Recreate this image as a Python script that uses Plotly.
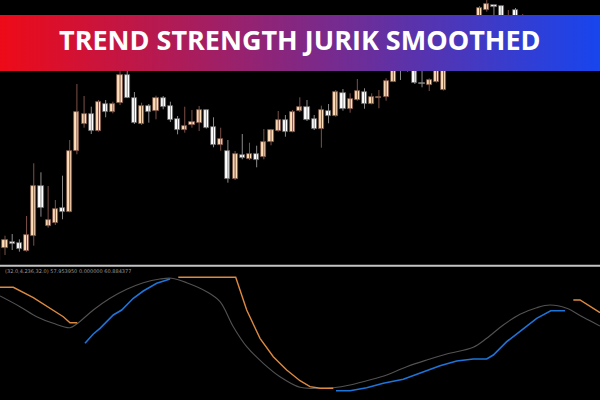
import base64
import plotly.graph_objects as go

# ---------------- main price panel (candles) ----------------
opens = [39, 52.3, 58.3, 56.7, 49.3, 64, 114.3, 74.3, 77.3, 91.7,
         88, 149, 176, 186, 168.7, 196, 188, 196.7, 225, 202.3,
         175.7, 194.3, 189, 201.7, 193.7, 180.7, 170, 174.7, 176.7, 190,
         173.3, 154.7, 149, 120.7, 145, 141, 146, 143.3, 157.7, 169,
         180, 168.3, 189, 193.3, 180.7, 171, 189.3, 184.3, 206.7, 190.7,
         200, 208.3, 196.3, 202.4, 202.7, 218.3, 242, 234, 245, 217,
         215, 218.3, 210, 232, 248, 255, 265, 278, 290, 295,
         294, 276, 290, 280]
highs = [57, 64.3, 66, 60.7, 84, 136.7, 127.7, 114, 100, 124.3,
         160, 216, 204, 193.3, 200, 200, 198.3, 232, 230, 208,
         197.3, 196, 204.3, 204, 198.3, 184, 193.3, 190, 194, 190,
         182.7, 172.3, 160, 149, 166, 157.3, 154.3, 171, 171, 189,
         185, 190, 202.7, 200, 185, 194.3, 196, 210, 211, 206.7,
         221, 211.7, 206.7, 210, 221.7, 242, 248, 255, 250, 232,
         221.7, 240, 242, 250, 260, 270, 280, 294, 300, 295,
         294, 290, 292, 286]
lows = [38, 45, 50, 48.3, 48.3, 54.3, 83.3, 72.3, 75, 80.7,
        87.7, 145.7, 172.3, 166, 168.3, 182.7, 186.7, 195, 202, 176,
        175, 177.3, 180.7, 190.7, 178, 165.7, 167.3, 172.3, 169, 171.5,
        152.7, 149.3, 117.3, 120, 140.7, 140, 132.7, 140.7, 154.7, 168.3,
        163.3, 167.7, 188, 179, 170, 152.3, 176.7, 183.3, 189.3, 187.3,
        199.3, 191.3, 195.7, 191.7, 199.3, 218, 220, 228, 216, 212.7,
        209, 217.5, 209.5, 229, 240, 250, 260, 275, 288.3, 282,
        278, 274, 275, 276]
closes = [54, 60, 56.3, 51, 65, 114.3, 92.3, 79.7, 90.7, 87.7,
          149, 188, 186, 169, 197.7, 188, 196, 225, 202.3, 176.7,
          194.3, 188.3, 202.3, 193.3, 180, 170, 174, 177.7, 190, 172.3,
          154.7, 161, 121, 146, 142.3, 146.3, 140.3, 158.3, 170, 179.7,
          168.3, 188.3, 193.3, 180, 171, 190, 184.3, 207.7, 190.7, 201,
          209, 196.3, 203.3, 203.0, 219.3, 238, 232, 250, 216.7, 216.4,
          220, 236, 238, 248, 255, 265, 275, 291.7, 296, 293.3,
          280, 282, 278, 283]
bars = list(range(len(opens)))

# ---------------- lower indicator panel ----------------
gray_x = [0, 20, 36.7, 53.3, 70, 76.7, 93.3, 110, 126.7, 143.3, 160, 171.7, 186.7,
          206.7, 220, 233.3, 246.7, 263.3, 280, 300, 316.7, 333.3, 350, 366.7,
          386.7, 406.7, 426.7, 446.7, 473.3, 486.7, 503.3, 520, 536.7, 550,
          566.7, 583.3, 600]
gray_v = [99, 88.3, 78.3, 71.7, 67.3, 71, 85, 96.7, 105.7, 112.3, 116, 116.7, 112.3,
          103.3, 93.3, 68.3, 48.3, 31.7, 18.3, 7.7, 6.7, 7.3, 10, 14.3,
          20, 28.3, 35, 41, 47.7, 56.7, 70, 80.7, 87.3, 90,
          86.7, 77.7, 69]

orange1_x = [0, 13.3, 33.3, 50, 63.3, 70, 77.3]
orange1_v = [107.7, 107.7, 97.3, 87, 78.3, 72.3, 72.3]
orange2_x = [178.3, 235.7, 246.7, 260, 273.3, 286.7, 300, 310, 320, 333.3]
orange2_v = [117.7, 117.7, 85, 56.7, 38.3, 25, 14.3, 8.3, 6.7, 6.7]
orange3_x = [573.3, 580, 600]
orange3_v = [95, 95, 82.3]

blue1_x = [85, 93.3, 100, 113.3, 121.7, 133.3, 143.3, 156.7, 170]
blue1_v = [51.7, 61, 66.7, 80, 85, 96.7, 104, 111.7, 116]
blue2_x = [336, 350, 366.7, 383.3, 403.3, 423.3, 440, 456.7, 473.3, 486.7,
           493.3, 506.7, 523.3, 536.7, 550.7, 565]
blue2_v = [4.3, 4.3, 7.3, 11.7, 15.7, 23.3, 29.3, 34, 36, 36,
           40, 53.3, 66.7, 76.7, 84.3, 84.3]

title_text = "TREND STRENGTH JURIK SMOOTHED"
info_text = "(32.0,4.236,32.0) 57.953950 0.000000 60.884377"

# ---------------- build figure ----------------
fig = go.Figure()

bull = [i for i in bars if closes[i] >= opens[i]]
bear = [i for i in bars if closes[i] < opens[i]]


def wick_xy(group):
    xs, ys = [], []
    for i in group:
        xs += [i, i, None]
        ys += [lows[i], highs[i], None]
    return xs, ys


for group, col in ((bull, "#7d5148"), (bear, "#8a8a8a")):
    wx, wy = wick_xy(group)
    fig.add_trace(go.Scatter(x=wx, y=wy, mode="lines", line=dict(color=col, width=1),
                             hoverinfo="skip", showlegend=False, xaxis="x", yaxis="y"))

for group, fill, edge in ((bull, "#FFDEB8", "#7a5444"), (bear, "#FFFFFF", "#606060")):
    base = [min(opens[i], closes[i]) for i in group]
    height = [max(abs(closes[i] - opens[i]), 0.8) for i in group]
    fig.add_trace(go.Bar(x=group, y=height, base=base, width=0.72,
                         marker=dict(color=fill, line=dict(color=edge, width=0.8)),
                         showlegend=False, xaxis="x", yaxis="y"))

fig.add_trace(go.Scatter(x=gray_x, y=gray_v, mode="lines",
                         line=dict(color="#525252", width=1.1, shape="spline"),
                         showlegend=False, xaxis="x2", yaxis="y2"))
for xs, vs in ((orange1_x, orange1_v), (orange2_x, orange2_v), (orange3_x, orange3_v)):
    fig.add_trace(go.Scatter(x=xs, y=vs, mode="lines", line=dict(color="#DC8A40", width=1.4),
                             showlegend=False, xaxis="x2", yaxis="y2"))
for xs, vs in ((blue1_x, blue1_v), (blue2_x, blue2_v)):
    fig.add_trace(go.Scatter(x=xs, y=vs, mode="lines", line=dict(color="#1E74D8", width=1.6),
                             showlegend=False, xaxis="x2", yaxis="y2"))

# gradient banner as an SVG image
svg = ("<svg xmlns='http://www.w3.org/2000/svg' width='600' height='56' preserveAspectRatio='none'>"
       "<defs><linearGradient id='g' x1='0' x2='1' y1='0' y2='0'>"
       "<stop offset='0' stop-color='#EE0A18'/><stop offset='1' stop-color='#1745EE'/>"
       "</linearGradient></defs><rect width='600' height='56' fill='url(#g)'/></svg>")
uri = "data:image/svg+xml;base64," + base64.b64encode(svg.encode()).decode()

H = 400.0
fig.update_layout(
    width=600, height=400,
    margin=dict(l=0, r=0, t=0, b=0),
    paper_bgcolor="black", plot_bgcolor="rgba(0,0,0,0)",
    barmode="overlay", bargap=0,
    xaxis=dict(domain=[0, 1], range=[0.305, 83.75], visible=False, anchor="y"),
    yaxis=dict(domain=[1 - 265 / H, 1], range=[35, 300], visible=False, anchor="x"),
    xaxis2=dict(domain=[0, 1], range=[0, 600], visible=False, anchor="y2"),
    yaxis2=dict(domain=[0, 1 - 267 / H], range=[-5, 128], visible=False, anchor="x2"),
    images=[dict(source=uri, xref="paper", yref="paper", x=0, y=1 - 15 / H,
                 sizex=1, sizey=56 / H, sizing="stretch", xanchor="left", yanchor="top",
                 layer="above")],
    shapes=[dict(type="line", xref="paper", yref="paper", x0=0, x1=1,
                 y0=1 - 265.8 / H, y1=1 - 265.8 / H, line=dict(color="#c4c4c4", width=2))],
    annotations=[
        dict(text=title_text, xref="paper", yref="paper", x=0.5, y=1 - 40 / H,
             xanchor="center", yanchor="middle", showarrow=False,
             font=dict(family="Open Sans", size=27, color="white", weight=700)),
        dict(text=info_text, xref="paper", yref="paper", x=0.005, y=1 - 270.5 / H,
             xanchor="left", yanchor="middle", showarrow=False,
             font=dict(family="DejaVu Sans", size=5, color="#9a9a9a")),
    ],
)

fig.write_html("out.html", config={"displayModeBar": False},
               post_script="document.body.style.margin='0';document.body.style.padding='0';"
                           "document.body.style.background='black';")
